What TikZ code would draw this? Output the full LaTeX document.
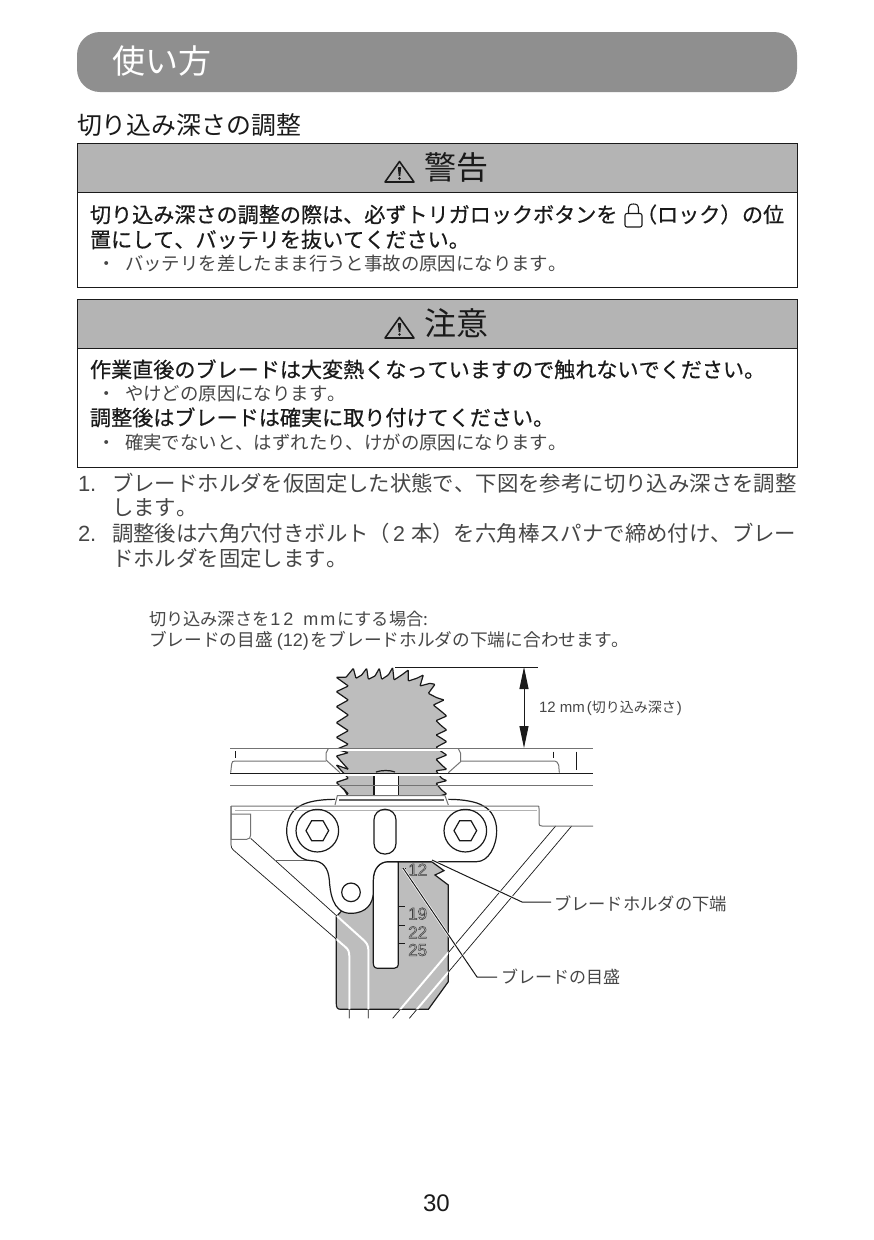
\documentclass[tikz,border=0pt]{standalone}
\usepackage{fontspec}
\usetikzlibrary{arrows.meta}
\newfontfamily\jp[RawFeature={-kern;-palt}]{Noto Sans CJK JP}
\newfontfamily\jpm[RawFeature={-kern;-palt},FakeBold=0.5]{Noto Sans CJK JP}
\newfontfamily\lat{Liberation Sans}
\newfontfamily\outl[FakeBold=3]{Liberation Sans}
\definecolor{pill}{HTML}{8F8F8F}
\definecolor{hdr}{HTML}{B4B4B4}
\definecolor{blade}{HTML}{BDBDBD}
\definecolor{ink}{HTML}{1A1A1A}
\definecolor{soft}{HTML}{464646}
\tikzset{
  zA/.style={shift={(220,650)},x=.33333pt,y=-.33333pt},
  zB/.style={shift={(220,800)},x=.33333pt,y=-.33333pt},
  jt/.style={anchor=base west,inner sep=0pt,outer sep=0pt,text=ink},
  jsoft/.style={jt,text=soft},
  thin line/.style={draw=ink,line width=.7pt},
  gray line/.style={draw=black!55,line width=1pt},
  heavy/.style={draw=ink,line width=1.2pt},
  frame/.style={draw=ink,line width=1pt},
  tri/.style={draw=ink,line width=1.6pt,line join=round},
  scalenum/.style={inner sep=0pt,text=blade,font=\outl\fontsize{17}{17}\selectfont},
}
\newcommand{\fz}[1]{\jp\fontsize{#1}{#1}\selectfont}
\newcommand{\fm}[1]{\jpm\fontsize{#1}{#1}\selectfont}
\newcommand{\stk}[1]{\special{pdf:code 0.25 0.25 0.25 RG}#1}
\newcommand{\bladepath}{(349,82)--(378,82)--(400,55)--(408,85)--(425,75)--(440,55)--(445,88)--(465,78)--(478,55)--(485,88)--(505,75)--(518,53)--(522,90)--(545,75)--(565,60)--(565,93)--(590,85)--(610,75)--(600,108)--(630,100)--(645,103)--(625,130)--(650,143)--(672,150)--(640,165)--(665,185)--(680,198)--(648,212)--(665,228)--(680,240)--(648,255)--(665,265)--(680,275)--(648,292)--(665,305)--(680,315)--(648,328)--(665,345)--(680,358)--(648,362)--(665,385)--(680,392)--(648,400)--(665,420)--(680,432)--(650,440)--(385,440)--(370,415)--(385,432)--(349,397)--(385,385)--(349,345)--(385,358)--(349,318)--(385,308)--(349,298)--(385,283)--(349,262)--(385,242)--(349,218)--(385,195)--(349,170)--(385,150)--(349,125)--(385,108)--cycle}
\newcommand{\lowerpath}{(349,350)--(349,612) .. controls (349,622) and (352,628) .. (362,628)--(625,628)--(685,545)--(685,255)--(645,225)--(672,212)--(635,185)--(500,185)--cycle}
\begin{document}
\begin{tikzpicture}[x=1pt,y=-1pt]
\useasboundingbox (0,0) rectangle (874,1240);
\fill[white] (0,0) rectangle (874,1240);
% title
\fill[pill,rounded corners=23pt] (77,32) rectangle (797,92);
\node[jt,text=white,font=\fz{33}] (title) at (112,73.5) {使い方};
\node[jt,font=\fz{24.9}] (sect) at (77,134) {切り込み深さの調整};
% warning box
\fill[hdr] (77,143) rectangle (797,192);
\draw[frame] (77,143) rectangle (797,287);
\draw[frame] (77,192) -- (797,192);
\draw[tri] (399.5,161.5) -- (385,182) -- (414,182) -- cycle;
\fill[ink] (397.8,167) -- (401.2,167) -- (400.3,176) -- (398.7,176) -- cycle;
\fill[ink] (399.5,178.5) circle (1.3pt);
\node[jt,font=\fz{32}] (warn) at (424,179.5) {警告};
\node[jt,font=\fm{21.1}] (w1) at (90,222.5) {切り込み深さの調整の際は、必ずトリガロックボタンを};
\draw[ink,line width=1.1pt,line join=round] (628.5,213.5) -- (628.5,210) .. controls (628.5,205) and (630,204) .. (633.5,204) .. controls (637,204) and (638.5,205) .. (638.5,210) -- (638.5,213.5);
\draw[ink,line width=1.1pt,rounded corners=2pt] (625,213.5) rectangle (642,227);
\node[jt,font=\fm{21.1}] (w1b) at (636,222.5) {（ロック）};
\node[jt,font=\fm{21.1}] (w1c) at (742,222.5) {の位};
\node[jt,font=\fm{21.1}] (w2) at (90,247.5) {置にして、バッテリを抜いてください。};
\node[jsoft,font=\fz{18.4}] (w3a) at (97,270.5) {・};
\node[jsoft,font=\fz{18.4}] (w3) at (125,270.5) {バッテリを差したまま行うと事故の原因になります。};
% caution box
\fill[hdr] (77,299) rectangle (797,348);
\draw[frame] (77,299) rectangle (797,467);
\draw[frame] (77,348) -- (797,348);
\draw[tri] (399.5,317.5) -- (385,338) -- (414,338) -- cycle;
\fill[ink] (397.8,323) -- (401.2,323) -- (400.3,332) -- (398.7,332) -- cycle;
\fill[ink] (399.5,334.5) circle (1.3pt);
\node[jt,font=\fz{32}] (caut) at (424,335.5) {注意};
\node[jt,font=\fm{21.1}] (c1) at (90,377.5) {作業直後のブレードは大変熱くなっていますので触れないでください。};
\node[jsoft,font=\fz{18.4}] (c2a) at (97,400.5) {・};
\node[jsoft,font=\fz{18.4}] (c2) at (125,400.5) {やけどの原因になります。};
\node[jt,font=\fm{21.1}] (c3) at (90,425.5) {調整後はブレードは確実に取り付けてください。};
\node[jsoft,font=\fz{18.4}] (c4a) at (97,449.5) {・};
\node[jsoft,font=\fz{18.4}] (c4) at (125,449.5) {確実でないと、はずれたり、けがの原因になります。};
% steps
\node[jsoft,font=\lat\fontsize{22}{22}\selectfont] (n1) at (78,491.5) {1.};
\node[jsoft,font=\fz{21.4}] (s1) at (112,491.5) {ブレードホルダを仮固定した状態で、下図を参考に切り込み深さを調整};
\node[jsoft,font=\fz{21.4}] (s1b) at (112,515.5) {します。};
\node[jsoft,font=\lat\fontsize{22}{22}\selectfont] (n2) at (78,541.5) {2.};
\node[jsoft,font=\fz{21.4}] (s2) at (112,541.5) {調整後は六角穴付きボルト（\kern3pt{\lat 2}\kern6pt 本）を六角棒スパナで締め付け、ブレー};
\node[jsoft,font=\fz{21.4}] (s2b) at (112,566.5) {ドホルダを固定します。};
% caption
\node[jsoft,font=\fz{17.2}] (cap1) at (149,625) {切り込み深さを{\lat\fontsize{18}{18}\selectfont\kern1pt 1\kern3pt 2\kern10pt m\kern2pt m\kern2pt}にする場合:};
\node[jsoft,font=\fz{17.7}] (cap2) at (149,646) {ブレードの目盛{\lat\fontsize{18}{18}\selectfont\kern4pt (12)\kern2pt}をブレードホルダの下端に合わせます。};
% blade upper bands
\begin{scope}[zA]
\begin{scope}
\clip (300,40) rectangle (720,294);
\filldraw[fill=blade,heavy,rounded corners=.8pt] \bladepath;
\end{scope}
\begin{scope}
\clip (300,305) rectangle (720,366);
\filldraw[fill=blade,heavy,rounded corners=.8pt] \bladepath;
\end{scope}
\begin{scope}
\clip (300,378) rectangle (720,436);
\filldraw[fill=blade,heavy,rounded corners=.8pt] \bladepath;
\end{scope}
\fill[white] (462,376) rectangle (535,438);
\draw[heavy] (462,378) -- (462,436) (535,378) -- (535,436);
\draw[heavy] (468,366) .. controls (485,360) and (510,360) .. (525,366);
% plate lines
\draw[gray line] (30,295) -- (1119,295);
\draw[draw=ink,line width=.9pt] (30,369) -- (1119,369);
\draw[gray line] (30,407) -- (1119,407);
\draw[gray line] (325,296) -- (318,310) -- (318,330) -- (360,368);
\draw[gray line] (715,296) -- (722,310) -- (722,335) -- (685,368);
\draw[gray line] (32,368) -- (35,342) .. controls (36,335) and (38,333) .. (45,333) -- (318,333);
\draw[gray line] (722,333) -- (1000,333) .. controls (1010,333) and (1014,338) .. (1016,345) -- (1018,368);
\draw[thin line] (47,303) -- (47,325) (999,305) -- (999,325) (1068,305) -- (1068,360);
\end{scope}
% lower blade and plate
\begin{scope}[zB]
\filldraw[fill=blade,heavy] \lowerpath;
\draw[thin line] (33,18) -- (33,135) .. controls (33,142) and (36,146) .. (40,150) -- (375,440) .. controls (385,448) and (388,455) .. (388,470) -- (388,655);
\draw[thin line] (92,115) -- (425,415) .. controls (440,428) and (445,435) .. (445,450) -- (445,655);
\draw[thin line] (518,655) -- (1007,78);
\draw[thin line] (568,655) -- (1055,78);
\begin{scope}
\clip \lowerpath;
\draw[white,line width=2pt] (92,115) -- (425,415) .. controls (440,428) and (445,435) .. (445,450) -- (445,655);
\draw[white,line width=2pt] (33,135) -- (40,150) -- (375,440) .. controls (385,448) and (388,455) .. (388,470) -- (388,655);
\draw[white,line width=2pt] (518,655) -- (1007,78);
\draw[white,line width=2pt] (568,655) -- (1055,78);
\end{scope}
\draw[gray line] (33,18) -- (33,118) -- (80,118) .. controls (88,118) and (92,112) .. (92,105) -- (92,42) -- (35,42);
\draw[draw=black!60,line width=.6pt] (165,182) -- (275,182);
% slot
\filldraw[fill=white,heavy] (460,240) -- (460,490) .. controls (460,500) and (465,505) .. (475,505) -- (522,505) .. controls (530,505) and (535,500) .. (535,490) -- (535,185) -- (505,185) .. controls (480,185) and (460,205) .. (460,240) -- cycle;
% holder
\fill[white] (240,18) .. controls (215,30) and (200,60) .. (200,92) .. controls (200,140) and (235,182) .. (275,182) .. controls (310,182) and (325,205) .. (328,240) .. controls (330,270) and (335,340) .. (392,340) .. controls (440,340) and (460,310) .. (460,275) -- (460,240) .. controls (460,205) and (480,185) .. (505,185) -- (770,185) .. controls (805,185) and (830,140) .. (830,92) .. controls (830,60) and (815,30) .. (790,18) .. controls (770,5) and (730,-2) .. (685,-2) -- (675,-13) -- (352,-13) -- (345,-2) .. controls (300,-2) and (260,5) .. (240,18) -- cycle;
\draw[heavy] (345,-2) .. controls (300,-2) and (260,5) .. (240,18) .. controls (215,30) and (200,60) .. (200,92) .. controls (200,140) and (235,182) .. (275,182) .. controls (310,182) and (325,205) .. (328,240) .. controls (330,270) and (335,340) .. (392,340) .. controls (440,340) and (460,310) .. (460,275) -- (460,240) .. controls (460,205) and (480,185) .. (505,185) -- (770,185) .. controls (805,185) and (830,140) .. (830,92) .. controls (830,60) and (815,30) .. (790,18) .. controls (770,5) and (730,-2) .. (685,-2);
\draw[gray line] (345,15) -- (352,-13) -- (675,-13) -- (685,15);
\draw[draw=black!60,line width=1.8pt] (357,0) -- (672,0);
\draw[gray line] (33,18) -- (954,18) .. controls (957,18) and (957,20) .. (957,25) -- (957,70) .. controls (957,76) and (960,78) .. (966,78) -- (1119,78);
\draw[draw=black!30,line width=.8pt] (45,32) -- (950,32);
\draw[heavy] (292,92) circle (21.3pt);
\draw[heavy] (736,92) circle (21.3pt);
\draw[heavy] (258,92) -- (275,62) -- (309,62) -- (326,92) -- (309,122) -- (275,122) -- cycle;
\draw[heavy] (702,92) -- (719,62) -- (753,62) -- (770,92) -- (753,122) -- (719,122) -- cycle;
\draw[heavy,rounded corners=10.5pt] (462,28) rectangle (528,162);
\draw[heavy] (393,277) circle (9.3pt);
% scale
\draw[draw=ink,line width=.8pt] (535,185) -- (557,185) (545,205) -- (557,205) (535,318) -- (555,318) (535,375) -- (555,375) (535,430) -- (555,430);
\node[scalenum] (m12) at (593,209) {\stk{12}};
\node[scalenum] (m19) at (593,341) {\stk{19}};
\node[scalenum] (m22) at (593,397) {\stk{22}};
\node[scalenum] (m25) at (593,450) {\stk{25}};
\end{scope}
% dimension
\coordinate (dimtop) at (524,667);
\coordinate (dimbot) at (524,748);
\coordinate (dimL) at (395,667);
\coordinate (dimR) at (538,667);
\draw[draw=ink,line width=.9pt] (dimL) -- (dimR);
\draw[draw=ink,line width=1pt,{Triangle[length=22pt,width=9pt]}-{Triangle[length=22pt,width=9pt]}] (dimtop) -- (dimbot);
\node[jsoft,font=\fz{14}] (dimlab) at (539,712) {{\lat\fontsize{15}{15}\selectfont 12 mm\kern2pt(}切り込み深さ{\lat\fontsize{15}{15}\selectfont\kern1pt)}};
% leaders
\node[jsoft,font=\fz{17.3}] (lab1) at (554,910) {ブレードホルダの下端};
\node[jsoft,font=\fz{17}] (lab2) at (501,983) {ブレードの目盛};
\coordinate (lead1) at (432,860);
\coordinate (lead1b) at (522,902);
\coordinate (lead2) at (403,868);
\coordinate (lead2b) at (477,977);
\draw[draw=white,line width=2.4pt] (lead1) -- (lead1b);
\draw[draw=white,line width=2.4pt] (lead2) -- (lead2b);
\draw[draw=ink,line width=1pt,line join=round] (lead1) -- (lead1b) -- (551,902);
\draw[draw=ink,line width=1pt,line join=round] (lead2) -- (lead2b) -- (497,977);
\node[jt,font=\lat\fontsize{24}{24}\selectfont] (page) at (423,1211) {30};
\end{tikzpicture}
\end{document}
